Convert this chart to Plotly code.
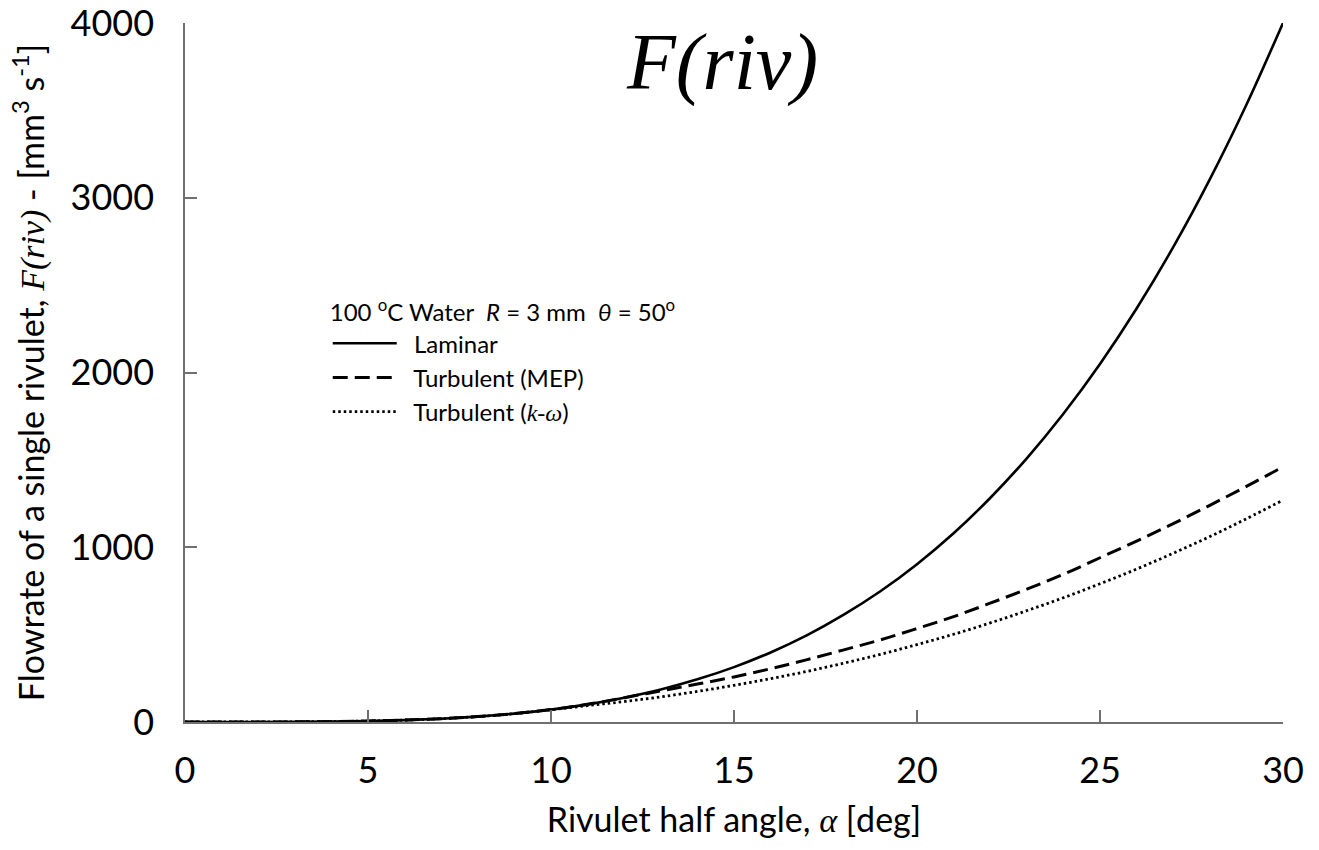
import plotly.graph_objects as go

alpha = list(range(0, 31))
laminar = [0, 0, 0.2, 0.9, 2.5, 5.6, 11, 19, 31, 48, 71, 101, 139, 186, 244, 314,
           398, 497, 614, 748, 903, 1080, 1282, 1509, 1764, 2049, 2366, 2717, 3105, 3532, 4000]
turb_mep = [0, 0, 0.2, 0.9, 2.5, 5.6, 11, 19, 31, 48, 71, 101, 139, 178, 217, 258,
            305, 357, 413, 470, 535, 603, 680, 760, 845, 940, 1035, 1135, 1240, 1348, 1460]
turb_kw = [0, 0, 0.2, 0.9, 2.5, 5.6, 11, 19, 31, 48, 70, 94, 117, 144, 175, 210,
           248, 290, 337, 387, 443, 502, 567, 637, 711, 791, 875, 966, 1061, 1163, 1270]

x_ticks = [0, 5, 10, 15, 20, 25, 30]
y_ticks = [0, 1000, 2000, 3000, 4000]

SERIF = "Liberation Serif"
SANS = "Lato"
PAD = "\u00a0\u00a0"

fig = go.Figure()
fig.add_trace(go.Scatter(x=alpha, y=laminar, mode="lines", name=PAD + "Laminar",
                         line=dict(color="black", width=2.6, shape="spline")))
fig.add_trace(go.Scatter(x=alpha, y=turb_mep, mode="lines", name=PAD + "Turbulent (MEP)",
                         line=dict(color="black", width=3, dash="15px,7px", shape="spline")))
fig.add_trace(go.Scatter(x=alpha, y=turb_kw, mode="lines",
                         name=PAD + f"Turbulent (<span style=\"font-family:{SERIF}\"><i>k</i>-<i>ω</i></span>)",
                         line=dict(color="black", width=2.8, dash="2.5px,3px", shape="spline")))

axis_common = dict(showgrid=False, zeroline=False, showline=True, linecolor="#707070",
                   linewidth=1.5, ticks="inside", ticklen=12, tickcolor="#707070", tickwidth=1.5,
                   ticklabeloverflow="allow", automargin=False,
                   tickfont=dict(size=36, color="black", family=SANS))

fig.update_layout(
    width=1319, height=850,
    margin=dict(l=185, r=36, t=23, b=128, autoexpand=False),
    plot_bgcolor="white", paper_bgcolor="white",
    font=dict(family=SANS, color="black"),
    xaxis=dict(range=[0, 30], tickvals=x_ticks, ticktext=[str(v) for v in x_ticks],
               title=dict(text="Rivulet half angle, <span style=\"font-family:Liberation Serif\"><i>α</i></span> [deg]",
                          font=dict(size=34, family=SANS), standoff=18),
               ticklabelstandoff=16,
               **axis_common),
    yaxis=dict(range=[0, 4000], tickvals=y_ticks, ticktext=[str(v) for v in y_ticks],
               title=dict(text="Flowrate of a single rivulet, <span style=\"font-family:Liberation Serif\"><i>F(riv)</i></span> - [mm<sup>3</sup> s<sup>-1</sup>]",
                          font=dict(size=34, family=SANS), standoff=16),
               ticklabelstandoff=22,
               **axis_common),
    showlegend=True,
    legend=dict(x=0.13, y=0.618, xanchor="left", yanchor="top",
                bgcolor="rgba(0,0,0,0)", font=dict(size=24, family=SANS),
                title=dict(text="100 <sup>o</sup>C Water  <i>R</i> = 3 mm  <i>θ</i> = 50<sup>o</sup>",
                           font=dict(size=24, family=SANS), side="top"),
                itemwidth=64, tracegroupgap=0),
    annotations=[dict(text="<i>F(riv)</i>", x=0.489, y=0.944, xref="paper", yref="paper",
                      xanchor="center", yanchor="middle", showarrow=False,
                      font=dict(size=80, family=SERIF, color="black"))],
)

fig.write_html("out.html")
